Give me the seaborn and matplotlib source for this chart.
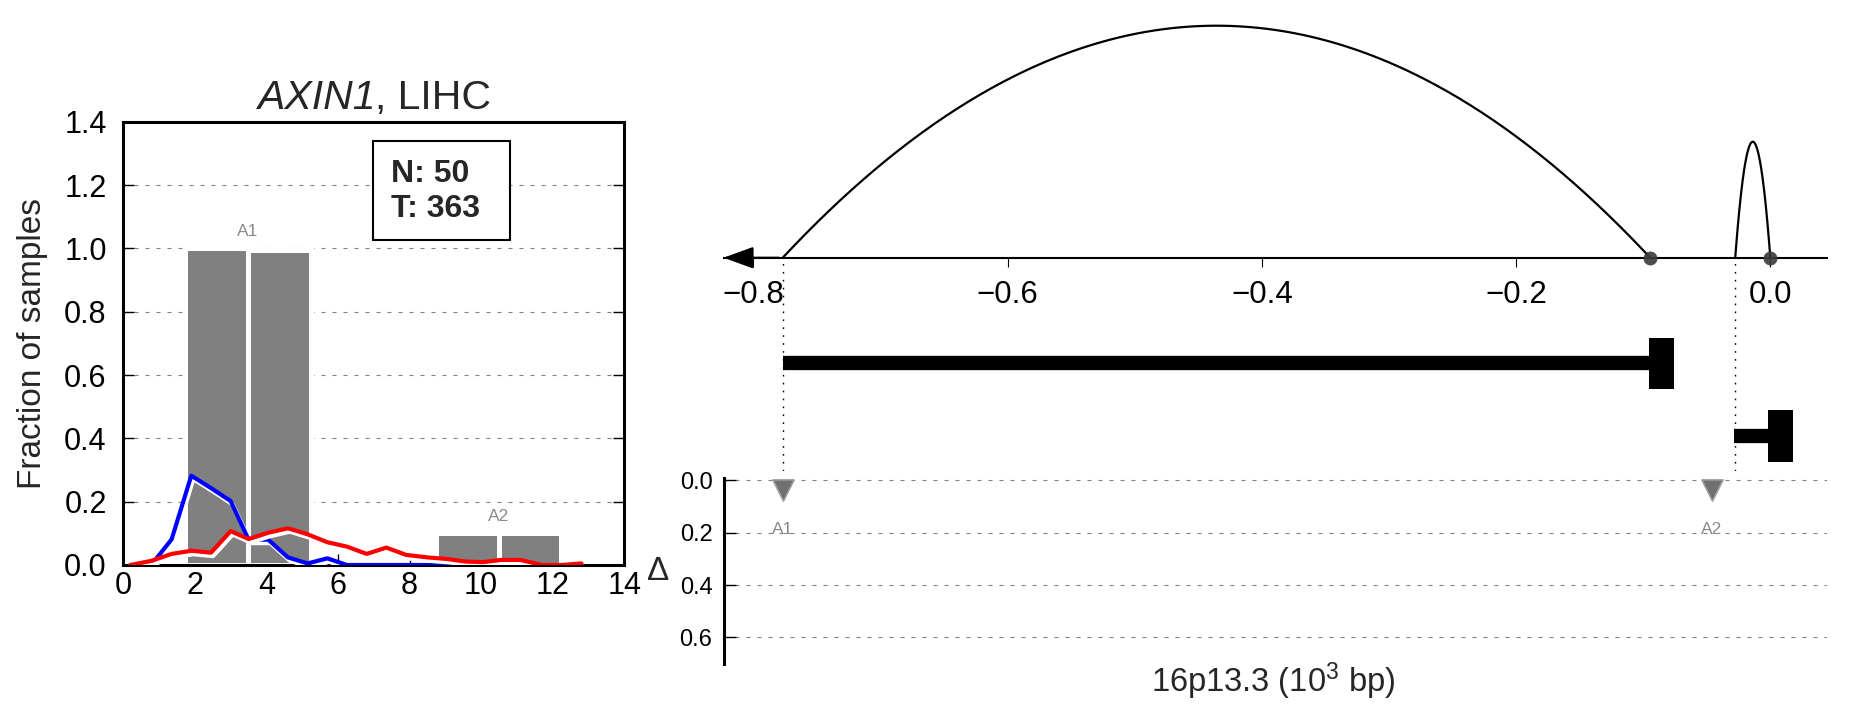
import numpy as np
import matplotlib
matplotlib.use("Agg")
import matplotlib.pyplot as plt
import matplotlib.patheffects as pe
from matplotlib.patches import Rectangle
from matplotlib.offsetbox import TextArea, HPacker, AnchoredOffsetbox
import seaborn as sns

# ---- left panel data: allele bars and length distributions ----
bar_left = [1.72, 3.48, 8.73, 10.485]
bar_width = [1.76, 1.77, 1.755, 1.745]
bar_height = [1.0, 0.995, 0.1, 0.1]
allele_names = ["A1", "A2"]
allele_x = [3.48, 10.485]
allele_top = [1.0, 0.1]

normal_x = [0.2, 0.78, 1.35, 1.9, 2.45, 3.0, 3.5, 4.05, 4.6, 5.15, 5.7, 6.25,
            6.8, 7.35, 7.9, 8.5, 9.05]
normal_y = [0.0, 0.0, 0.081, 0.282, 0.243, 0.202, 0.08, 0.08, 0.024, 0.005,
            0.021, 0.0, 0.0, 0.0, 0.0, 0.0, 0.0]
tumor_x = [0.2, 0.78, 1.35, 1.9, 2.45, 3.0, 3.5, 4.05, 4.6, 5.15, 5.7, 6.25,
           6.8, 7.35, 7.9, 8.5, 9.05, 9.55, 10.05, 10.55, 11.1, 11.7, 12.25, 12.8]
tumor_y = [0.0, 0.013, 0.035, 0.045, 0.039, 0.107, 0.082, 0.102, 0.116, 0.097,
           0.072, 0.058, 0.035, 0.055, 0.032, 0.024, 0.019, 0.011, 0.009, 0.016,
           0.016, 0.0, 0.0, 0.005]
n_normal = 50
n_tumor = 363
gene_name = "AXIN1"
cancer = "LIHC"

# ---- right panel data: loops, genes, allele deltas (10^3 bp) ----
pos_ticks = [-0.8, -0.6, -0.4, -0.2, 0.0]
arc_start = [-0.777, -0.0276]
arc_end = [-0.0945, 0.0]
arc_height = [1.0, 0.5]
gene_start = [-0.777, -0.0283]
gene_end = [-0.0953, -0.0016]
allele_pos = [-0.777, -0.0459]
allele_delta = [0.036, 0.036]
delta_ticks = [0.0, 0.2, 0.4, 0.6]

sns.set_theme(style="ticks")
plt.rcParams["font.family"] = ["Liberation Sans", "DejaVu Sans"]
plt.rcParams["mathtext.fontset"] = "custom"
plt.rcParams["mathtext.rm"] = "Liberation Sans"
plt.rcParams["mathtext.it"] = "Liberation Sans:italic"
plt.rcParams["mathtext.bf"] = "Liberation Sans:bold"

W, H = 1851, 718
fig = plt.figure(figsize=(W / 100, H / 100), dpi=100)
grid_style = dict(color="0.5", linestyle=(0, (3.6, 6.3)), linewidth=0.8)

# ================= left panel =================
ax = fig.add_axes([123.3 / W, (H - 565) / H, (624.3 - 123.3) / W, (565 - 121.7) / H])
ax.set_axisbelow(True)
ax.yaxis.grid(True, **grid_style)
ax.xaxis.grid(False)
ax.bar(bar_left, bar_height, width=bar_width, align="edge", color="#808080",
       edgecolor="white", linewidth=3.6, zorder=2)
for name, x, top in zip(allele_names, allele_x, allele_top):
    ax.text(x, top + 0.053, name, ha="center", va="center", fontsize=12.5,
            color="#8a8a8a", zorder=3)

shadow = [pe.SimpleLineShadow(offset=(1.5, -2.5), shadow_color="white", alpha=1.0, rho=1.0),
          pe.Normal()]
sns.lineplot(x=normal_x, y=normal_y, color="#0000ff", linewidth=3.0, ax=ax,
             path_effects=shadow, zorder=4)
sns.lineplot(x=tumor_x, y=tumor_y, color="#ff0000", linewidth=3.0, ax=ax,
             path_effects=shadow, zorder=5)

ax.set_xlim(0, 14)
ax.set_ylim(0, 1.4)
ax.set_xticks(range(0, 15, 2))
ax.set_yticks(np.arange(0, 1.41, 0.2))
ax.set_yticklabels([f"{v:.1f}" for v in np.arange(0, 1.41, 0.2)])
for s in ax.spines.values():
    s.set_linewidth(2.2)
    s.set_color("black")
ax.tick_params(axis="both", direction="in", length=8, width=1.0, labelsize=22,
               color="black", labelcolor="black")
ax.tick_params(axis="y", right=True, left=True, pad=12)
ax.tick_params(axis="x", top=False, bottom=True, pad=4.3)

# title: italic gene name followed by upright cohort
title_box = HPacker(children=[TextArea(gene_name, textprops=dict(fontsize=29.5, style="italic")),
                              TextArea(f", {cancer}", textprops=dict(fontsize=29.5))],
                    align="baseline", pad=0, sep=0)
ax.add_artist(AnchoredOffsetbox(loc="lower center", child=title_box, pad=0, borderpad=0,
                                frameon=False, bbox_to_anchor=(0.5, 1 + 4.7 / 443.3),
                                bbox_transform=ax.transAxes))
fig.text(32 / W, 1 - 343.3 / H, "Fraction of samples", rotation=90,
         ha="center", va="center", fontsize=24)

ax.add_patch(Rectangle((0.498, 0.733), 0.274, 0.2233, transform=ax.transAxes,
                       facecolor="white", edgecolor="black", linewidth=1.5, zorder=6))
ax.text(0.534, 0.8647, f"N: {n_normal}", transform=ax.transAxes, ha="left",
        va="baseline", fontsize=23, fontweight="bold", zorder=7)
ax.text(0.534, 0.7857, f"T: {n_tumor}", transform=ax.transAxes, ha="left",
        va="baseline", fontsize=23, fontweight="bold", zorder=7)

# ================= right panel: loops + genes =================
xlim = (-0.8236, 0.0446)
axt = fig.add_axes([723.5 / W, (H - 471) / H, (1827 - 723.5) / W, (471 - 10) / H])
axt.set_xlim(*xlim)
axt.set_ylim(-0.9194, 1.0677)
axt.set_facecolor("none")
for side in ["left", "right", "top"]:
    axt.spines[side].set_visible(False)
axt.spines["bottom"].set_position(("data", 0))
axt.spines["bottom"].set_linewidth(1.5)
axt.spines["bottom"].set_color("black")
axt.set_yticks([])
axt.set_xticks(pos_ticks)
axt.set_xticklabels([f"{v:.1f}".replace("-", "\u2212") for v in pos_ticks])
axt.tick_params(axis="x", direction="out", length=6.5, width=0.8, labelsize=22.5,
                pad=9.3, color="black", labelcolor="black")
axt.annotate("", xy=(0, 0), xycoords=("axes fraction", "data"),
             xytext=(0.05, 0), textcoords=("axes fraction", "data"),
             arrowprops=dict(arrowstyle="-|>,head_length=0.55,head_width=0.2",
                             mutation_scale=34, color="black", lw=1.5,
                             shrinkA=0, shrinkB=0))

for a, b, h in zip(arc_start, arc_end, arc_height):
    xs = np.linspace(a, b, 300)
    mid, half = (a + b) / 2, (b - a) / 2
    axt.plot(xs, h * (1 - ((xs - mid) / half) ** 2), color="black", lw=1.6,
             solid_capstyle="butt", zorder=3)
sns.scatterplot(x=arc_end, y=[0.0] * len(arc_end), ax=axt, color="#3a3a3a",
                s=90, alpha=0.9, edgecolor="#3a3a3a", linewidth=0.5, zorder=5,
                clip_on=False)

axt.vlines(arc_start, -0.9194, 0, colors="black", linestyles=(0, (1.2, 4.5)),
           linewidth=1.0, zorder=1)

gene_rows = [-0.456, -0.768]
for g0, g1, row in zip(gene_start, gene_end, gene_rows):
    axt.plot([g0, g1], [row, row], color="black", lw=10.3, solid_capstyle="butt",
             zorder=4)
    axt.add_patch(Rectangle((g1, row - 0.112), 0.0192, 0.224, facecolor="black",
                            edgecolor="none", zorder=4))

# ================= right panel: delta axis =================
axd = fig.add_axes([724.3 / W, (H - 664.3) / H, (1827 - 724.3) / W, (664.3 - 478.3) / H])
axd.set_xlim(xlim[0] + (724.3 - 723.5) / 1270, xlim[1])
axd.set_ylim(0.703, -0.008)
axd.set_facecolor("none")
for side in ["bottom", "right", "top"]:
    axd.spines[side].set_visible(False)
axd.spines["left"].set_linewidth(2.2)
axd.spines["left"].set_color("black")
axd.set_xticks([])
axd.set_yticks(delta_ticks)
axd.set_yticklabels([f"{v:.1f}" for v in delta_ticks])
axd.tick_params(axis="y", direction="in", length=8.6, width=1.0, labelsize=17,
                pad=8.5, color="black", labelcolor="black")
axd.yaxis.grid(True, **grid_style)
axd.xaxis.grid(False)
sns.scatterplot(x=allele_pos, y=allele_delta, ax=axd, marker="v", s=230,
                color="#707070", edgecolor="#9a9a9a", linewidth=1.2, zorder=4,
                clip_on=False)
for name, x, d in zip(allele_names, allele_pos, allele_delta):
    axd.text(x, d + 0.151, name, ha="center", va="center", fontsize=12.5,
             color="#8a8a8a", zorder=4)

fig.text(657.7 / W, (H - 580) / H, "\u0394", ha="center", va="baseline", fontsize=24)
fig.text(1273 / W, (H - 691.7) / H, r"16p13.3 (10$^3$ bp)", ha="center",
         va="baseline", fontsize=23.5)

fig.savefig("out.png", dpi=100)
